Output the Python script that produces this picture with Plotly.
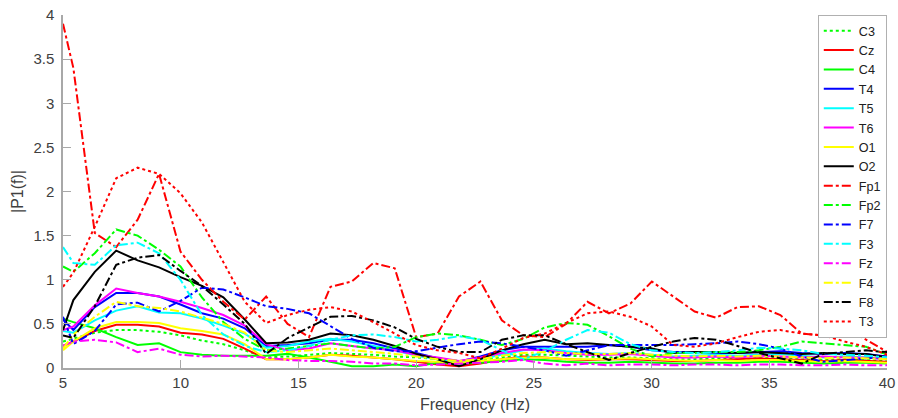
import plotly.graph_objects as go

freq = [5.0, 5.44, 6.35, 7.26, 8.17, 9.08, 9.99, 10.9, 11.81, 12.72, 13.63, 14.54, 15.45, 16.36,
        17.27, 18.18, 19.09, 20.0, 20.91, 21.82, 22.73, 23.64, 24.55, 25.46, 26.37, 27.28, 28.19,
        29.1, 30.01, 30.92, 31.83, 32.74, 33.65, 34.56, 35.47, 36.38, 37.29, 38.2, 39.11, 40.02]

C3 = [0.3, 0.33, 0.4, 0.43, 0.43, 0.41, 0.37, 0.31, 0.27, 0.2, 0.12, 0.13, 0.15, 0.17, 0.16, 0.15,
      0.13, 0.12, 0.1, 0.08, 0.09, 0.12, 0.15, 0.15, 0.14, 0.13, 0.12, 0.12, 0.11, 0.1, 0.1, 0.11,
      0.1, 0.11, 0.11, 0.1, 0.09, 0.1, 0.09, 0.08]
Cz = [0.25, 0.3, 0.42, 0.49, 0.49, 0.47, 0.4, 0.38, 0.33, 0.22, 0.1, 0.1, 0.12, 0.15, 0.14, 0.12,
      0.1, 0.07, 0.04, 0.02, 0.05, 0.1, 0.13, 0.12, 0.1, 0.09, 0.1, 0.1, 0.09, 0.08, 0.08, 0.09,
      0.1, 0.11, 0.1, 0.09, 0.08, 0.09, 0.08, 0.07]
C4 = [0.56, 0.52, 0.45, 0.35, 0.26, 0.28, 0.18, 0.15, 0.14, 0.14, 0.14, 0.16, 0.12, 0.07, 0.02, 0.02,
      0.04, 0.02, 0.06, 0.05, 0.06, 0.08, 0.1, 0.09, 0.07, 0.06, 0.06, 0.07, 0.06, 0.05, 0.05, 0.06,
      0.06, 0.07, 0.07, 0.06, 0.05, 0.06, 0.06, 0.05]
T4 = [0.55, 0.43, 0.69, 0.85, 0.85, 0.81, 0.72, 0.62, 0.56, 0.45, 0.25, 0.26, 0.28, 0.32, 0.32, 0.28,
      0.22, 0.17, 0.11, 0.07, 0.13, 0.2, 0.24, 0.24, 0.24, 0.24, 0.26, 0.24, 0.2, 0.18, 0.18, 0.17,
      0.17, 0.18, 0.19, 0.17, 0.16, 0.17, 0.16, 0.13]
T5 = [0.42, 0.4, 0.54, 0.65, 0.7, 0.63, 0.62, 0.56, 0.48, 0.39, 0.23, 0.25, 0.3, 0.33, 0.3, 0.25,
      0.2, 0.14, 0.1, 0.06, 0.1, 0.15, 0.2, 0.22, 0.19, 0.17, 0.16, 0.17, 0.15, 0.13, 0.14, 0.15,
      0.14, 0.15, 0.16, 0.14, 0.12, 0.13, 0.12, 0.1]
T6 = [0.43, 0.47, 0.71, 0.9, 0.85, 0.81, 0.75, 0.68, 0.6, 0.48, 0.27, 0.2, 0.22, 0.28, 0.25, 0.22,
      0.2, 0.15, 0.12, 0.08, 0.12, 0.17, 0.21, 0.2, 0.17, 0.15, 0.15, 0.16, 0.14, 0.12, 0.12, 0.13,
      0.12, 0.14, 0.13, 0.12, 0.13, 0.12, 0.12, 0.1]
O1 = [0.2, 0.3, 0.45, 0.52, 0.52, 0.51, 0.45, 0.42, 0.38, 0.27, 0.1, 0.1, 0.12, 0.15, 0.13, 0.12,
      0.1, 0.08, 0.07, 0.06, 0.08, 0.1, 0.12, 0.12, 0.1, 0.1, 0.1, 0.11, 0.1, 0.09, 0.08, 0.09,
      0.08, 0.09, 0.09, 0.08, 0.07, 0.08, 0.07, 0.06]
O2 = [0.43, 0.77, 1.09, 1.33, 1.22, 1.14, 1.03, 0.93, 0.8, 0.55, 0.28, 0.29, 0.32, 0.39, 0.37, 0.32,
      0.25, 0.16, 0.1, 0.02, 0.1, 0.2, 0.27, 0.32, 0.27, 0.28, 0.26, 0.24, 0.22, 0.17, 0.18, 0.18,
      0.17, 0.18, 0.17, 0.16, 0.17, 0.16, 0.16, 0.12]
Fp1 = [3.9, 3.4, 1.53, 1.37, 1.68, 2.2, 1.32, 1.0, 0.75, 0.55, 0.81, 0.5, 0.35, 0.92, 0.98, 1.19,
       1.13, 0.35, 0.39, 0.81, 0.98, 0.54, 0.37, 0.35, 0.5, 0.75, 0.62, 0.73, 0.98, 0.81, 0.64, 0.57,
       0.69, 0.7, 0.6, 0.39, 0.37, 0.46, 0.32, 0.18]
Fp2 = [1.15, 1.09, 1.3, 1.57, 1.5, 1.34, 1.15, 0.8, 0.52, 0.33, 0.2, 0.22, 0.25, 0.28, 0.25, 0.22,
       0.24, 0.35, 0.39, 0.37, 0.32, 0.26, 0.33, 0.46, 0.51, 0.49, 0.36, 0.22, 0.13, 0.17, 0.17, 0.18,
       0.18, 0.2, 0.24, 0.3, 0.28, 0.26, 0.24, 0.15]
F7 = [0.58, 0.27, 0.42, 0.72, 0.74, 0.64, 0.76, 0.91, 0.89, 0.8, 0.7, 0.67, 0.62, 0.47, 0.33, 0.23,
      0.19, 0.19, 0.23, 0.27, 0.3, 0.28, 0.24, 0.2, 0.14, 0.2, 0.26, 0.26, 0.26, 0.26, 0.27, 0.28,
      0.3, 0.27, 0.22, 0.13, 0.07, 0.09, 0.11, 0.13]
F3 = [1.37, 1.19, 1.17, 1.39, 1.42, 1.3, 1.0, 0.6, 0.38, 0.25, 0.18, 0.2, 0.25, 0.32, 0.37, 0.38,
      0.35, 0.3, 0.32, 0.36, 0.32, 0.2, 0.1, 0.19, 0.32, 0.43, 0.4, 0.27, 0.2, 0.18, 0.17, 0.18,
      0.2, 0.23, 0.22, 0.2, 0.16, 0.15, 0.14, 0.12]
Fz = [0.25, 0.3, 0.32, 0.29, 0.18, 0.22, 0.15, 0.13, 0.14, 0.13, 0.12, 0.09, 0.08, 0.08, 0.07, 0.05,
      0.05, 0.03, 0.04, 0.05, 0.06, 0.07, 0.09, 0.05, 0.03, 0.05, 0.03, 0.04, 0.04, 0.03, 0.04, 0.04,
      0.03, 0.04, 0.04, 0.03, 0.03, 0.04, 0.03, 0.03]
F4 = [0.22, 0.38, 0.58, 0.75, 0.7, 0.68, 0.64, 0.57, 0.5, 0.4, 0.2, 0.18, 0.2, 0.22, 0.2, 0.18,
      0.16, 0.13, 0.1, 0.08, 0.1, 0.14, 0.17, 0.18, 0.17, 0.16, 0.16, 0.17, 0.15, 0.14, 0.13, 0.14,
      0.13, 0.14, 0.13, 0.12, 0.11, 0.12, 0.11, 0.1]
F8 = [0.37, 0.34, 0.7, 1.17, 1.25, 1.28, 1.1, 0.93, 0.72, 0.5, 0.16, 0.34, 0.46, 0.58, 0.59, 0.54,
      0.46, 0.33, 0.24, 0.18, 0.18, 0.32, 0.37, 0.37, 0.27, 0.18, 0.09, 0.17, 0.24, 0.3, 0.34, 0.32,
      0.25, 0.17, 0.11, 0.05, 0.16, 0.18, 0.2, 0.18]
T3 = [0.92, 1.08, 1.6, 2.15, 2.27, 2.2, 1.98, 1.65, 1.2, 0.75, 0.51, 0.6, 0.66, 0.69, 0.64, 0.52,
      0.39, 0.26, 0.2, 0.17, 0.11, 0.22, 0.34, 0.39, 0.51, 0.62, 0.64, 0.58, 0.47, 0.26, 0.24, 0.28,
      0.35, 0.41, 0.43, 0.39, 0.37, 0.3, 0.24, 0.15]

names = ["C3", "Cz", "C4", "T4", "T5", "T6", "O1", "O2",
         "Fp1", "Fp2", "F7", "F3", "Fz", "F4", "F8", "T3"]
series = [C3, Cz, C4, T4, T5, T6, O1, O2, Fp1, Fp2, F7, F3, Fz, F4, F8, T3]
colors = ["#00ff00", "#ff0000", "#00ff00", "#0000ff", "#00ffff", "#ff00ff", "#ffff00", "#000000",
          "#ff0000", "#00ff00", "#0000ff", "#00ffff", "#ff00ff", "#ffff00", "#000000", "#ff0000"]
dashes = ["dot", "solid", "solid", "solid", "solid", "solid", "solid", "solid",
          "dashdot", "dashdot", "dashdot", "dashdot", "dashdot", "dashdot", "dashdot", "dot"]

fig = go.Figure()
for n, s, c, d in zip(names, series, colors, dashes):
    fig.add_trace(go.Scatter(x=freq, y=s, name=n, mode="lines",
                             line=dict(color=c, dash=d, width=2)))

axis_col = "#a8a8a8"
fig.update_layout(
    width=898, height=418,
    margin=dict(l=63, r=11, t=15, b=50),
    paper_bgcolor="white", plot_bgcolor="white",
    font=dict(family="Liberation Sans, Arial, sans-serif", size=15, color="#404040"),
    xaxis=dict(range=[5, 40], tickvals=[5, 10, 15, 20, 25, 30, 35, 40], automargin=False,
               showline=True, linecolor=axis_col, linewidth=1.5, mirror=False,
               ticks="inside", ticklen=8, tickcolor=axis_col, showgrid=False, zeroline=False,
               title=dict(text="Frequency (Hz)", font=dict(size=16, color="#404040"), standoff=9)),
    yaxis=dict(range=[0, 4], tickvals=[0, 0.5, 1, 1.5, 2, 2.5, 3, 3.5, 4], automargin=False,
               ticktext=["0", "0.5", "1", "1.5", "2", "2.5", "3", "3.5", "4"],
               showline=True, linecolor=axis_col, linewidth=1.5, mirror=False,
               ticks="inside", ticklen=8, tickcolor=axis_col, showgrid=False, zeroline=False,
               ticklabelstandoff=4,
               title=dict(text="|P1(f)|", font=dict(size=16, color="#404040"), standoff=6)),
    legend=dict(x=0.916, y=1.0, xanchor="left", yanchor="top",
                bgcolor="white", bordercolor="#b0b0b0", borderwidth=1,
                font=dict(size=12.6, color="#202020"), itemwidth=30,
                tracegroupgap=0),
    showlegend=True,
)

fig.write_html("out.html")
